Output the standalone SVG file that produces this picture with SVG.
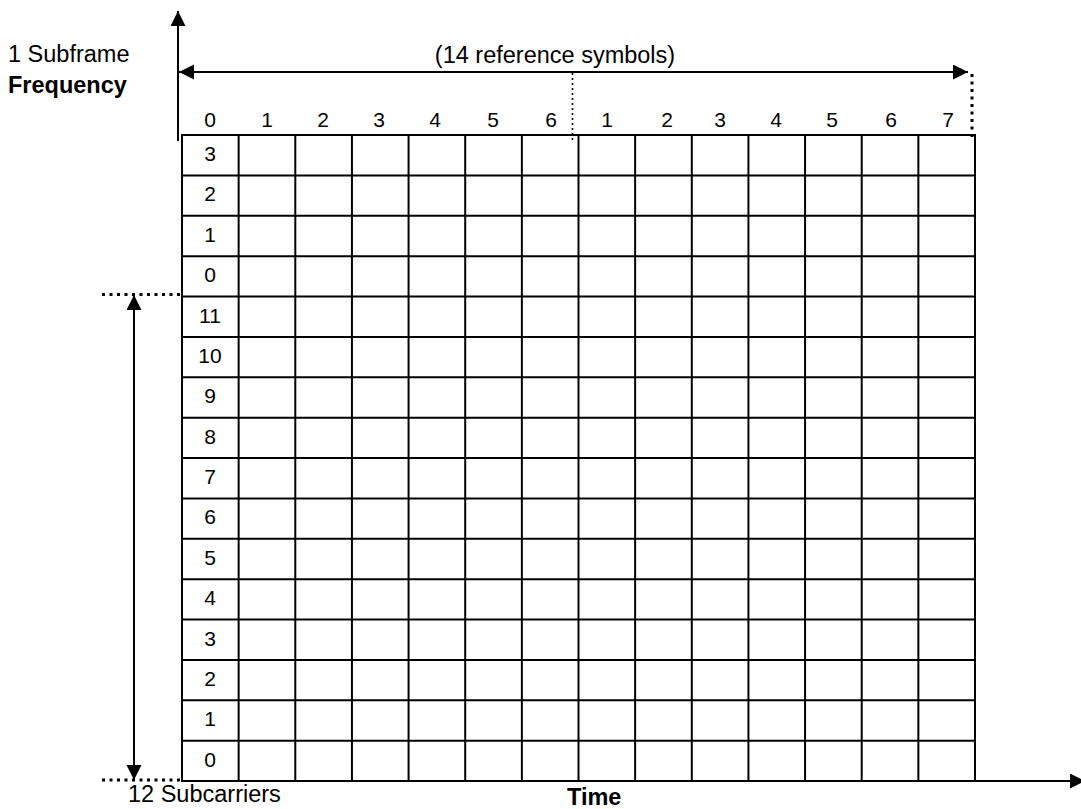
<svg xmlns="http://www.w3.org/2000/svg" width="1081" height="809" viewBox="0 0 1081 809">
  <defs>
    <style>
      .title { font-family: "Liberation Sans", Arial, sans-serif; font-size: 23.5px; fill: #000; }
      .bold { font-weight: bold; }
      .num { font-family: "Liberation Sans", Arial, sans-serif; font-size: 21px; fill: #000; text-anchor: middle; }
      .grid { fill: none; stroke: #000; stroke-width: 2; }
      .arrow { fill: none; stroke: #000; stroke-width: 2; }
      .dots { fill: none; stroke: #000; stroke-width: 3; stroke-dasharray: 3 4.5; }
      .dotsThin { fill: none; stroke: #000; stroke-width: 1.6; stroke-dasharray: 2 3; }
    </style>
    <marker id="ah" markerUnits="userSpaceOnUse" markerWidth="16" markerHeight="16" refX="15" refY="7.5" orient="auto-start-reverse">
      <path d="M0,0 L15,7.5 L0,15 z" fill="#000"/>
    </marker>
  </defs>
  <rect width="1081" height="809" fill="#fff"/>

  <g id="grid">
    <path class="grid" d="M182,135 V781 M238.64,135 V781 M295.29,135 V781 M351.93,135 V781 M408.57,135 V781 M465.21,135 V781 M521.86,135 V781 M578.5,135 V781 M635.14,135 V781 M691.79,135 V781 M748.43,135 V781 M805.07,135 V781 M861.71,135 V781 M918.36,135 V781 M975,135 V781
      M181,135 H976 M181,175.375 H976 M181,215.75 H976 M181,256.125 H976 M181,296.5 H976 M181,336.875 H976 M181,377.25 H976 M181,417.625 H976 M181,458 H976 M181,498.375 H976 M181,538.75 H976 M181,579.125 H976 M181,619.5 H976 M181,659.875 H976 M181,700.25 H976 M181,740.625 H976 M181,781 H976"/>
  </g>

  <g id="row-labels">
    <text class="num" x="210" y="161">3</text>
    <text class="num" x="210" y="201.4">2</text>
    <text class="num" x="210" y="241.8">1</text>
    <text class="num" x="210" y="282.1">0</text>
    <text class="num" x="210" y="322.5">11</text>
    <text class="num" x="210" y="362.9">10</text>
    <text class="num" x="210" y="403.3">9</text>
    <text class="num" x="210" y="443.6">8</text>
    <text class="num" x="210" y="484">7</text>
    <text class="num" x="210" y="524.4">6</text>
    <text class="num" x="210" y="564.8">5</text>
    <text class="num" x="210" y="605.1">4</text>
    <text class="num" x="210" y="645.5">3</text>
    <text class="num" x="210" y="685.9">2</text>
    <text class="num" x="210" y="726.3">1</text>
    <text class="num" x="210" y="766.6">0</text>
  </g>

  <g id="column-labels">
    <text class="num" x="210" y="127">0</text>
    <text class="num" x="267" y="127">1</text>
    <text class="num" x="323" y="127">2</text>
    <text class="num" x="379" y="127">3</text>
    <text class="num" x="435" y="127">4</text>
    <text class="num" x="493" y="127">5</text>
    <text class="num" x="551" y="127">6</text>
    <text class="num" x="607" y="127">1</text>
    <text class="num" x="667" y="127">2</text>
    <text class="num" x="720" y="127">3</text>
    <text class="num" x="776" y="127">4</text>
    <text class="num" x="832" y="127">5</text>
    <text class="num" x="891" y="127">6</text>
    <text class="num" x="948" y="127">7</text>
  </g>

  <g id="labels">
    <text class="title" x="8" y="62">1 Subframe</text>
    <text class="title bold" x="8" y="93">Frequency</text>
    <text class="title" x="555" y="63" text-anchor="middle">(14 reference symbols)</text>
    <text class="title" x="128" y="802">12 Subcarriers</text>
    <text class="title bold" x="567" y="805">Time</text>
  </g>

  <g id="connectors">
    <line class="arrow" x1="178" y1="141" x2="178" y2="11" marker-end="url(#ah)"/>
    <line class="arrow" x1="179" y1="72" x2="968" y2="72" marker-start="url(#ah)" marker-end="url(#ah)"/>
    <line class="arrow" x1="134" y1="295" x2="134" y2="780" marker-start="url(#ah)" marker-end="url(#ah)"/>
    <line class="arrow" x1="975" y1="781" x2="1085" y2="781" stroke-width="1.5" marker-end="url(#ah)"/>
    <line class="dots" x1="102" y1="294.5" x2="180" y2="294.5"/>
    <line class="dots" x1="102" y1="780" x2="180" y2="780"/>
    <line class="dots" x1="972" y1="74" x2="972" y2="140"/>
    <line class="dotsThin" x1="572.5" y1="73" x2="572.5" y2="141"/>
  </g>
</svg>
